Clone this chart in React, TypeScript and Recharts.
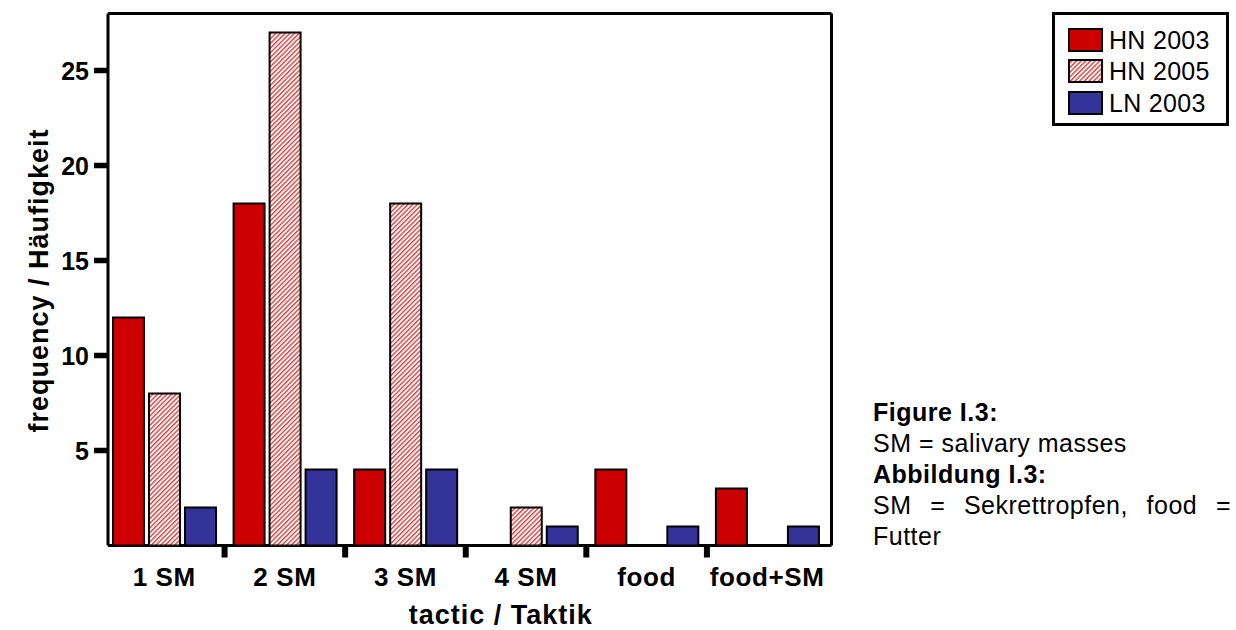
import { BarChart, Bar, XAxis, YAxis, Legend, Label, CartesianGrid } from 'recharts';

const categories = ['1 SM', '2 SM', '3 SM', '4 SM', 'food', 'food+SM'];
const hn2003 = [12, 18, 4, 0, 4, 3];
const hn2005 = [8, 27, 18, 2, 0, 0];
const ln2003 = [2, 4, 4, 1, 1, 1];
const yTicks = [5, 10, 15, 20, 25];

const series = [
  { key: 'hn2003', name: 'HN 2003', fill: '#cc0000' },
  { key: 'hn2005', name: 'HN 2005', fill: 'url(#hatch)' },
  { key: 'ln2003', name: 'LN 2003', fill: '#333399' },
];

const caption = [
  { text: 'Figure I.3:', bold: true },
  { text: 'SM = salivary masses', bold: false },
  { text: 'Abbildung I.3:', bold: true },
  { text: 'SM = Sekrettropfen, food =', bold: false, justify: true },
  { text: 'Futter', bold: false },
];

const data = categories.map((c, i) => ({
  tactic: c,
  hn2003: hn2003[i],
  hn2005: hn2005[i],
  ln2003: ln2003[i],
}));

const FONT = '"Liberation Sans", Arial, sans-serif';

function XTick(props: any) {
  const { x, y, payload, index } = props;
  const half = payload?.offset ?? 60;
  return (
    <g>
      {index > 0 && (
        <line x1={x - half} x2={x - half} y1={y} y2={y + 12} stroke="#000" strokeWidth={6} />
      )}
      <text x={x} y={y + 40.5} textAnchor="middle" fontFamily={FONT} fontSize={26} fontWeight="bold" letterSpacing={0.6} fill="#000">
        {payload.value}
      </text>
    </g>
  );
}

// y ticks drawn by hand so the tick mark and label sit where the reference has them
function YTick(props: any) {
  const { x, y, payload } = props;
  return (
    <g>
      <line x1={x - 14} x2={x} y1={y} y2={y} stroke="#000" strokeWidth={5.5} />
      <text x={x - 19} y={y} dy="0.36em" textAnchor="end" fontFamily={FONT} fontSize={25} fontWeight="bold" fill="#000">
        {payload.value}
      </text>
    </g>
  );
}

function YTitle(props: any) {
  const vb = props.viewBox;
  const cy = vb.y + vb.height / 2 + 1;
  const x = 48;
  return (
    <text x={x} y={cy} transform={`rotate(-90, ${x}, ${cy})`} textAnchor="middle" fontFamily={FONT} fontSize={27} fontWeight="bold" letterSpacing={1} fill="#000">
      frequency / Häufigkeit
    </text>
  );
}

function XTitle(props: any) {
  const vb = props.viewBox;
  return (
    <text x={vb.x + vb.width / 2 + 31} y={vb.y + 78.5} textAnchor="middle" fontFamily={FONT} fontSize={27} fontWeight="bold" letterSpacing={1} fill="#000">
      tactic / Taktik
    </text>
  );
}

function LegendBox(props: any) {
  const items = props.payload || [];
  return (
    <div style={{ border: '3px solid #000', boxSizing: 'border-box', width: 177, height: 114, paddingTop: 9, paddingLeft: 13, fontFamily: FONT, fontSize: 25, letterSpacing: 0.3, background: '#fff' }}>
      {items.map((e: any) => (
        <div key={e.value} style={{ display: 'flex', alignItems: 'center', height: 31.5 }}>
          <svg width={35} height={24} style={{ display: 'block' }}>
            <rect x={1} y={1} width={33} height={22} fill={e.color} stroke="#000" strokeWidth={2} />
          </svg>
          <span style={{ marginLeft: 6, lineHeight: '24px' }}>{e.value}</span>
        </div>
      ))}
    </div>
  );
}

// frame around the plot area
const frameX = ({ offset }: any) => [offset.left, offset.left + offset.width];
const frameY = ({ offset }: any) => [offset.top, offset.top + offset.height];

export default function App() {
  return (
    <div style={{ position: 'absolute', left: 0, top: 0, width: 1236, height: 630, background: '#fff' }}>
      <BarChart
        width={1236}
        height={630}
        data={data}
        margin={{ top: 13.5, right: 404.5, left: 0, bottom: 0 }}
        barSize={31}
        barGap={5}
      >
        <defs>
          <pattern id="hatch" width={3.3} height={3.3} patternUnits="userSpaceOnUse" patternTransform="rotate(45)">
            <rect width={3.3} height={3.3} fill="#fff" />
            <rect width={1.5} height={3.3} fill="#e44a4a" />
          </pattern>
        </defs>
        <CartesianGrid
          stroke="#000"
          strokeWidth={3}
          verticalCoordinatesGenerator={frameX}
          horizontalCoordinatesGenerator={frameY}
        />
        <XAxis
          dataKey="tactic"
          height={84.5}
          padding={{ left: -4, right: 4 }}
          axisLine={false}
          tickLine={false}
          tickSize={0}
          tickMargin={0}
          tick={<XTick />}
          interval={0}
        >
          <Label content={XTitle} />
        </XAxis>
        <YAxis
          type="number"
          domain={[0, 28]}
          ticks={yTicks}
          width={108}
          axisLine={false}
          tickLine={false}
          tickSize={0}
          tickMargin={0}
          tick={<YTick />}
          allowDataOverflow
        >
          <Label content={YTitle} />
        </YAxis>
        <Legend
          layout="horizontal"
          verticalAlign="middle"
          align="center"
          content={LegendBox}
          wrapperStyle={{ position: 'absolute', left: 1052, top: 12, width: 177, height: 114 }}
        />
        {series.map((s) => (
          <Bar key={s.key} dataKey={s.key} name={s.name} fill={s.fill} stroke="#000" strokeWidth={2} isAnimationActive={false} />
        ))}
      </BarChart>
      <div style={{ position: 'absolute', left: 873, top: 397, fontFamily: FONT, fontSize: 25, letterSpacing: 0.5, lineHeight: '31px', color: '#000' }}>
        {caption.map((c) => (
          <div
            key={c.text}
            style={{
              fontWeight: c.bold ? 'bold' : 'normal',
              width: c.justify ? 358 : undefined,
              textAlign: c.justify ? 'justify' : 'left',
              textAlignLast: c.justify ? 'justify' : undefined,
              whiteSpace: 'nowrap',
            }}
          >
            {c.text}
          </div>
        ))}
      </div>
    </div>
  );
}
